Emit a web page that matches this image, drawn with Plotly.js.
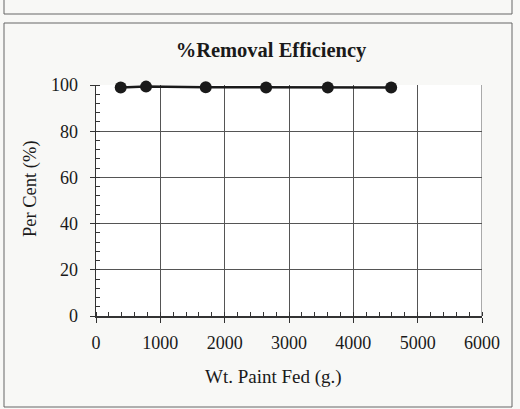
<!DOCTYPE html>
<html><head><meta charset="utf-8">
<script src="https://cdn.plot.ly/plotly-3.0.1.min.js"></script>
<style>html,body{margin:0;padding:0;background:#f8f8f6;}#chart{width:520px;height:409px;}</style>
</head><body><div id="chart"></div>
<script>
const wtPaintFed = [384, 778, 1706, 2644, 3603, 4588];
const removalEfficiency = [98.9, 99.3, 99.0, 98.9, 98.9, 98.9];
const xTicks = [0, 1000, 2000, 3000, 4000, 5000, 6000];
const yTicks = [0, 20, 40, 60, 80, 100];
const xTitle = 'Wt. Paint Fed (g.)';
const yTitle = 'Per Cent (%)';
const chartTitle = '%Removal Efficiency';

const serif = "'Liberation Serif', 'Times New Roman', serif";
const trace = {
  x: wtPaintFed, y: removalEfficiency, type: 'scatter', mode: 'lines+markers',
  line: {color: '#1a1a1a', width: 2.5},
  marker: {color: '#1a1a1a', size: 12},
  cliponaxis: false, showlegend: false
};
const layout = {
  width: 520, height: 409,
  paper_bgcolor: '#f8f8f6', plot_bgcolor: '#ffffff',
  margin: {l: 96, r: 38, t: 85, b: 93},
  font: {family: serif, color: '#1a1a1a', size: 18},
  title: {text: '<b>' + chartTitle + '</b>', font: {family: serif, size: 20.5, color: '#1a1a1a'},
          x: 271/520, xanchor: 'center', y: 1 - 50/409, yanchor: 'middle'},
  xaxis: {range: [0, 6000], tickvals: xTicks, ticktext: xTicks.map(String),
          showgrid: true, gridcolor: '#555', gridwidth: 1,
          showline: true, linecolor: '#333', linewidth: 1.5, mirror: false,
          ticks: 'outside', ticklen: 5, tickcolor: '#333', ticklabelstandoff: 5,
          minor: {dtick: 200, ticks: 'inside', ticklen: 4, tickcolor: '#333', showgrid: false},
          zeroline: false, fixedrange: true,
          tickfont: {family: serif, size: 18}},
  yaxis: {range: [0, 100], tickvals: yTicks, ticktext: yTicks.map(String),
          showgrid: true, gridcolor: '#555', gridwidth: 1,
          showline: true, linecolor: '#333', linewidth: 1.5,
          ticks: 'outside', ticklen: 5, tickcolor: '#333', ticklabelstandoff: 8,
          minor: {dtick: 4, ticks: 'inside', ticklen: 4, tickcolor: '#333', showgrid: false},
          zeroline: false, fixedrange: true,
          tickfont: {family: serif, size: 18}},
  annotations: [
    {text: xTitle, xref: 'paper', yref: 'paper', x: (273-96)/386, y: -(377-316)/231,
     xanchor: 'center', yanchor: 'middle', showarrow: false, font: {family: serif, size: 19, color: '#1a1a1a'}},
    {text: yTitle, xref: 'paper', yref: 'paper', x: (30-96)/386, y: (316-189)/231, textangle: -90,
     xanchor: 'center', yanchor: 'middle', showarrow: false, font: {family: serif, size: 18.5, color: '#1a1a1a'}}
  ],
  shapes: [
    {type: 'line', xref: 'x', yref: 'y', x0: 6000, x1: 6000, y0: 0, y1: 100, line: {color: '#555', width: 1}},
    {type: 'rect', xref: 'paper', yref: 'paper',
     x0: -92/386, x1: 1 + 30/386, y0: -91/231, y1: 1 + 62/231,
     line: {color: '#666', width: 1}, fillcolor: 'rgba(0,0,0,0)', layer: 'below'},
    {type: 'line', xref: 'paper', yref: 'paper', x0: -92/386, x1: 1 + 30/386, y0: 1 + 71/231, y1: 1 + 71/231,
     line: {color: '#666', width: 1}},
    {type: 'line', xref: 'paper', yref: 'paper', x0: -92/386, x1: -92/386, y0: 1 + 71/231, y1: 1 + 90/231,
     line: {color: '#666', width: 1}},
    {type: 'line', xref: 'paper', yref: 'paper', x0: 1 + 30/386, x1: 1 + 30/386, y0: 1 + 71/231, y1: 1 + 90/231,
     line: {color: '#666', width: 1}}
  ]
};
Plotly.newPlot('chart', [trace], layout, {staticPlot: true, displayModeBar: false});
</script></body></html>
